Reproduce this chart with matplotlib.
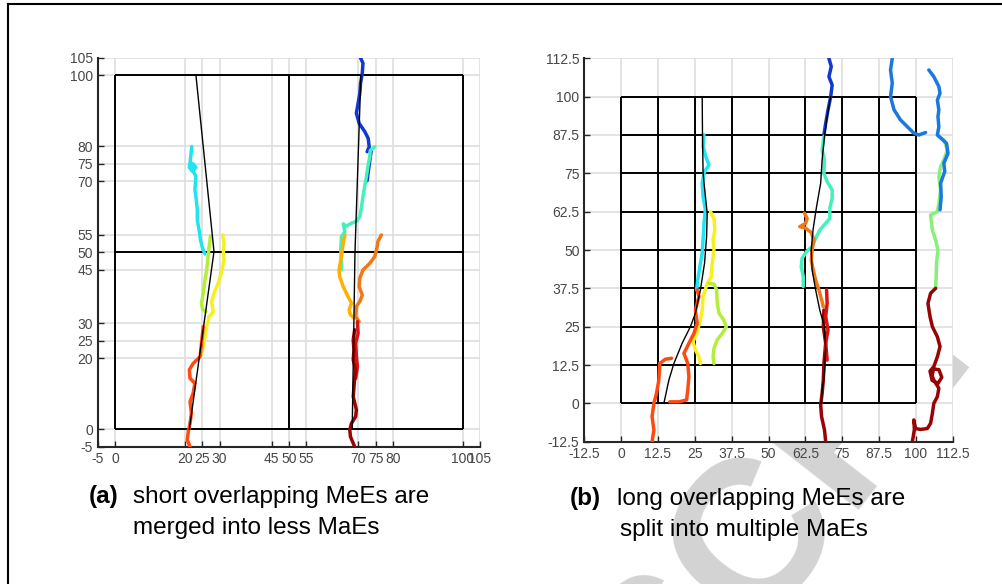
import matplotlib.pyplot as plt
from matplotlib.lines import Line2D

plt.rcParams['font.family'] = ['Liberation Sans', 'DejaVu Sans']

# ---------------- data: panel (a) ----------------
ticks_a = [-5, 0, 20, 25, 30, 45, 50, 55, 70, 75, 80, 100, 105]
grid_a = [0, 50, 100]

# fitted MaE lines (black)
mae1_a_x = [23.2, 28.4, 21.3]
mae1_a_y = [100, 50.2, 0]
mae2_a_x = [70.7, 69.0, 68.2]
mae2_a_y = [100, 50, 0]

cyan_a_x = [22.0, 21.7, 21.5, 21.3, 22.0, 23.2, 22.3, 21.8, 22.6, 23.2, 22.9, 23.2, 23.6, 23.6, 24.2, 24.5, 25.1, 25.8]
cyan_a_y = [79.8, 77.0, 75.2, 74.0, 73.0, 74.0, 75.0, 74.2, 72.5, 71.4, 67.6, 65.7, 62.0, 59.1, 55.8, 53.5, 51.1, 49.5]

ygreen_a_x = [27.4, 27.0, 26.7, 26.3, 25.8, 25.3, 24.8, 25.1, 26.1]
ygreen_a_y = [54.6, 51.6, 48.8, 45.0, 42.2, 38.4, 35.6, 33.9, 33.2]

yellow_a_x = [30.9, 31.3, 31.1, 31.3, 30.6, 29.6, 28.4, 27.7, 28.2, 27.0, 26.3, 25.8, 25.3, 24.8]
yellow_a_y = [54.9, 52.5, 49.7, 47.8, 44.5, 41.2, 38.4, 36.1, 33.2, 31.8, 29.0, 26.2, 23.4, 21.3]

ored_a_x = [25.3, 24.8, 24.4, 22.4, 21.3, 21.5, 22.9, 22.4, 21.5, 21.9, 21.5, 21.0, 20.7, 21.5]
ored_a_y = [29.0, 24.3, 20.5, 18.6, 16.8, 14.4, 13.0, 10.2, 7.8, 4.5, 1.7, -0.7, -3.0, -4.9]

blue1_a_x = [70.4, 71.3, 71.1, 70.6, 70.4, 69.9, 69.4, 70.2, 71.8, 72.8, 73.1, 72.5]
blue1_a_y = [105.3, 103.4, 100.6, 97.7, 94.9, 92.1, 89.3, 86.4, 84.1, 82.2, 79.8, 78.4]
blue2_a_x = [73.7, 73.3, 72.9, 72.5]
blue2_a_y = [78.9, 76.1, 73.3, 70.2]

teal_a_x = [74.7, 73.4, 73.3, 72.8, 72.3, 71.8, 71.3, 70.9, 70.4, 69.4, 68.0, 66.5, 65.6, 66.1, 65.1, 64.9, 65.1, 65.1]
teal_a_y = [79.8, 78.7, 77.0, 74.7, 71.4, 68.6, 65.7, 62.9, 60.1, 58.7, 58.2, 57.4, 58.0, 55.8, 54.4, 50.7, 46.9, 45.0]

oyel_a_x = [66.1, 65.6, 65.1, 64.4, 64.6, 65.6, 67.0, 68.0, 67.3, 67.7, 68.9]
oyel_a_y = [54.9, 52.5, 48.8, 45.0, 43.1, 40.3, 37.5, 35.6, 33.7, 32.3, 31.4]

orange_a_x = [76.6, 75.6, 75.4, 75.2, 74.7, 73.3, 71.3, 70.4, 70.2, 71.1, 70.4, 69.4, 69.2, 70.2]
orange_a_y = [54.9, 53.0, 51.6, 50.7, 48.8, 46.9, 45.0, 42.7, 40.3, 37.9, 36.1, 34.7, 31.8, 30.4]

red_a_x = [69.7, 69.9, 69.2, 69.4, 69.7, 69.2]
red_a_y = [30.4, 27.1, 24.3, 20.5, 17.7, 14.4]

dred_a_x = [68.9, 68.5, 68.7, 68.5, 69.2, 68.8, 68.5, 69.4, 69.2, 68.0, 67.5, 67.7, 68.9]
dred_a_y = [28.1, 25.2, 22.4, 19.6, 16.8, 13.0, 9.2, 5.5, 3.6, 1.7, -0.2, -2.1, -4.9]

# ---------------- data: panel (b) ----------------
ticks_b = [-12.5, 0, 12.5, 25, 37.5, 50, 62.5, 75, 87.5, 100, 112.5]
labels_b = ['-12.5', '0', '12.5', '25', '37.5', '50', '62.5', '75', '87.5', '100', '112.5']
grid_b = [0, 12.5, 25, 37.5, 50, 62.5, 75, 87.5, 100]

mae1_b_x = [27.5, 27.6, 27.8, 28.6, 29.2, 29.0, 28.3, 26.9, 25.2, 23.5, 20.7, 17.9, 16.2, 14.5]
mae1_b_y = [100, 88.1, 75.0, 67.4, 62.0, 54.4, 45.7, 37.0, 29.4, 25.0, 19.6, 13.0, 7.6, 0]
mae2_b_x = [71.1, 69.9, 69.0, 68.2, 67.7, 66.3, 65.1, 64.5, 64.8, 66.0, 67.4, 69.0, 69.4, 69.0, 68.2, 67.9]
mae2_b_y = [100, 93.5, 87.0, 79.4, 71.8, 64.1, 56.5, 50.0, 43.5, 37.0, 30.4, 25.0, 17.4, 9.8, 4.3, 0]

cyan_b_x = [28.1, 27.8, 28.7, 29.8, 28.3, 27.5, 27.8, 28.6, 28.1, 27.8, 27.5, 26.7, 26.0, 25.6]
cyan_b_y = [87.5, 83.7, 80.5, 77.7, 75.6, 71.8, 67.4, 63.1, 58.7, 53.3, 48.9, 44.6, 40.2, 37.0]

yellow_b_x = [30.3, 31.5, 31.8, 31.2, 31.5, 30.9, 30.6, 29.2, 27.8, 27.5, 26.9, 25.6, 24.4, 25.2, 26.4, 26.9]
yellow_b_y = [62.5, 60.3, 56.5, 53.3, 50.0, 45.7, 41.3, 39.1, 34.8, 30.4, 27.2, 22.8, 20.1, 17.4, 15.2, 13.0]

ygreen_b_x = [29.8, 31.5, 32.4, 32.6, 33.2, 34.8, 35.7, 34.3, 32.6, 31.5, 31.2, 31.5]
ygreen_b_y = [39.1, 38.9, 37.0, 32.6, 29.4, 27.2, 25.0, 22.8, 20.7, 17.9, 15.2, 13.0]

ored1_b_x = [25.8, 26.4, 25.2, 25.8, 24.7, 23.0, 21.3, 22.6, 23.0, 22.6, 22.2, 19.6, 16.5]
ored1_b_y = [37.0, 34.8, 30.4, 26.1, 22.8, 19.6, 16.3, 13.0, 8.7, 4.3, 1.1, 0.5, 0.5]
ored2_b_x = [17.1, 15.0, 13.1, 12.8, 12.0, 11.1, 10.5, 11.1, 10.5]
ored2_b_y = [14.7, 14.4, 13.0, 7.6, 3.3, 0, -4.3, -8.7, -12.5]

blue1_b_x = [70.5, 71.3, 70.5, 71.6, 71.1, 70.2, 69.4, 68.8]
blue1_b_y = [112.5, 109.8, 106.5, 103.8, 100, 95.7, 91.3, 87.5]

teal_b_x = [68.8, 68.2, 69.0, 68.8, 69.9, 71.6, 71.6, 70.8, 70.8, 69.4, 67.4, 66.0, 64.8, 62.9, 61.4, 61.1, 61.8, 61.8]
teal_b_y = [87.0, 82.6, 79.4, 75.0, 72.3, 69.6, 66.9, 63.6, 60.3, 58.7, 56.5, 53.8, 51.1, 49.5, 47.3, 44.6, 41.3, 38.1]

orange_b_x = [62.2, 63.1, 62.6, 60.6, 62.6, 64.5, 65.4, 64.8, 64.5, 65.2, 66.0, 67.1, 67.9, 68.6]
orange_b_y = [62.0, 60.3, 58.7, 57.6, 57.1, 55.7, 53.3, 50.0, 46.7, 43.5, 40.2, 37.0, 34.2, 31.5]

red_b_x = [69.7, 69.9, 69.4, 70.2, 69.4, 69.9]
red_b_y = [37.0, 32.6, 28.3, 23.9, 19.6, 14.1]

dred_b_x = [68.8, 68.6, 69.4, 68.8, 68.6, 68.2, 67.7, 68.0, 69.0, 69.4]
dred_b_y = [30.4, 25.0, 19.6, 13.0, 7.6, 3.3, -0.5, -4.3, -8.7, -12.5]

blue2_b_x = [92.0, 91.4, 92.0, 91.4, 92.6, 94.8, 97.1, 99.3, 101.0, 103.3]
blue2_b_y = [112.5, 108.7, 104.4, 100, 95.7, 92.4, 90.2, 88.1, 87.5, 88.3]

blue3_b_x = [104.4, 106.1, 107.8, 108.2, 107.3, 107.8, 107.5, 107.8, 107.3, 110.4, 110.9, 109.5, 109.8, 108.4, 108.6, 108.2]
blue3_b_y = [108.7, 106.5, 103.3, 101.1, 98.9, 95.7, 93.5, 90.2, 87.5, 84.8, 81.5, 78.3, 75.6, 71.8, 67.4, 63.1]

lgreen_b_x = [107.3, 109.5, 110.7, 109.5, 108.4, 107.8, 108.4, 107.8, 107.3, 105.0, 105.6, 106.7, 107.5, 107.0, 106.9, 106.7]
lgreen_b_y = [87.5, 85.9, 82.6, 79.4, 77.2, 73.9, 69.6, 65.2, 62.5, 61.4, 56.5, 53.3, 50.0, 45.7, 41.3, 37.5]

dred2_b_x = [106.7, 105.0, 104.1, 104.8, 105.6, 107.3, 108.2, 107.3, 106.1, 104.8, 105.5, 107.5, 108.8, 107.8, 106.0, 105.5,
             106.1, 107.8, 107.3, 106.1, 105.6, 105.0, 103.9, 101.6, 99.9, 99.3, 99.5, 99.1, 98.8]
dred2_b_y = [37.5, 35.9, 32.6, 28.3, 25.0, 21.7, 18.5, 15.2, 12.0, 10.5, 7.5, 6.5, 8.5, 11.0, 11.2, 9.0,
             7.6, 4.9, 2.2, 0, -3.3, -6.5, -8.2, -8.5, -8.2, -5.4, -8.5, -10.9, -12.5]

# jet-like colours
c_dblue = '#1238d0'
c_blue = '#1a78e0'
c_cyan = '#20e4f0'
c_teal = '#45f0bc'
c_lgreen = '#86f07a'
c_ygreen = '#b4ee3a'
c_yellow = '#f6f020'
c_oyel = '#ffb000'
c_orange = '#f07818'
c_ored = '#ff4a12'
c_red = '#d81414'
c_dred = '#980404'

fig = plt.figure(figsize=(10.03, 5.84), dpi=100)

# figure frame (left and top edges visible)
fig.add_artist(Line2D([8 / 1003, 8 / 1003], [0, 1 - 4 / 584], color='black', lw=1.5))
fig.add_artist(Line2D([8 / 1003, 1], [1 - 4 / 584, 1 - 4 / 584], color='black', lw=1.5))

# faint watermark behind everything
fig.text(0.6256, -0.2147, 'SCRI', rotation=52, fontsize=150, fontweight='bold',
         color='#d3d3d3', ha='left', va='center', rotation_mode='anchor', zorder=-5)


def style_axes(ax, lo, hi, ticks, labels):
    ax.set_xlim(lo, hi)
    ax.set_ylim(lo, hi)
    ax.set_xticks(ticks)
    ax.set_yticks(ticks)
    ax.set_xticklabels(labels)
    ax.set_yticklabels(labels)
    ax.spines['top'].set_visible(False)
    ax.spines['right'].set_visible(False)
    for s in ['left', 'bottom']:
        ax.spines[s].set_color('#262626')
        ax.spines[s].set_linewidth(1.5)
    ax.tick_params(direction='in', length=4, width=1, colors='#262626',
                   labelsize=10, labelcolor='#474747')
    ax.grid(True, color='#dedede', lw=1.2)
    ax.set_axisbelow(True)


def track(ax, x, y, c):
    ax.plot(x, y, color=c, lw=2.5, solid_capstyle='round', solid_joinstyle='round', zorder=3)


# ---------------- panel (a) ----------------
ax1 = fig.add_axes([98 / 1003, 1 - 447 / 584, 382 / 1003, 389.5 / 584])
style_axes(ax1, -5, 105, ticks_a, [str(t) for t in ticks_a])
ax1.vlines(grid_a, 0, 100, color='black', lw=1.4, zorder=2)
ax1.hlines(grid_a, 0, 100, color='black', lw=1.4, zorder=2)

track(ax1, cyan_a_x, cyan_a_y, c_cyan)
track(ax1, ygreen_a_x, ygreen_a_y, c_ygreen)
track(ax1, yellow_a_x, yellow_a_y, c_yellow)
track(ax1, ored_a_x, ored_a_y, c_ored)
track(ax1, blue1_a_x, blue1_a_y, c_dblue)
track(ax1, blue2_a_x, blue2_a_y, c_dblue)
track(ax1, teal_a_x, teal_a_y, c_teal)
track(ax1, oyel_a_x, oyel_a_y, c_oyel)
track(ax1, orange_a_x, orange_a_y, c_orange)
track(ax1, red_a_x, red_a_y, c_red)
track(ax1, dred_a_x, dred_a_y, c_dred)
ax1.plot(mae1_a_x, mae1_a_y, color='black', lw=1.0, zorder=4)
ax1.plot(mae2_a_x, mae2_a_y, color='black', lw=1.0, zorder=4)

# ---------------- panel (b) ----------------
ax2 = fig.add_axes([584.3 / 1003, 1 - 441.7 / 584, 368.4 / 1003, 383.4 / 584])
style_axes(ax2, -12.5, 112.5, ticks_b, labels_b)
ax2.vlines(grid_b, 0, 100, color='black', lw=1.4, zorder=2)
ax2.hlines(grid_b, 0, 100, color='black', lw=1.4, zorder=2)

track(ax2, cyan_b_x, cyan_b_y, c_cyan)
track(ax2, yellow_b_x, yellow_b_y, c_yellow)
track(ax2, ygreen_b_x, ygreen_b_y, c_ygreen)
track(ax2, ored1_b_x, ored1_b_y, c_ored)
track(ax2, ored2_b_x, ored2_b_y, c_ored)
track(ax2, blue1_b_x, blue1_b_y, c_dblue)
track(ax2, teal_b_x, teal_b_y, c_teal)
track(ax2, orange_b_x, orange_b_y, c_orange)
track(ax2, dred_b_x, dred_b_y, c_dred)
track(ax2, red_b_x, red_b_y, c_red)
track(ax2, blue2_b_x, blue2_b_y, c_blue)
track(ax2, lgreen_b_x, lgreen_b_y, c_lgreen)
track(ax2, blue3_b_x, blue3_b_y, c_blue)
track(ax2, dred2_b_x, dred2_b_y, c_dred)
ax2.plot(mae1_b_x, mae1_b_y, color='black', lw=1.0, zorder=4)
ax2.plot(mae2_b_x, mae2_b_y, color='black', lw=1.0, zorder=4)

# ---------------- captions ----------------
cap = dict(fontsize=17.5, va='center', ha='left', color='black')
fig.text(89 / 1003, 1 - 497 / 584, '(a)', fontweight='bold', **cap)
fig.text(133 / 1003, 1 - 497 / 584, 'short overlapping MeEs are', **cap)
fig.text(133 / 1003, 1 - 528 / 584, 'merged into less MaEs', **cap)
fig.text(570 / 1003, 1 - 499 / 584, '(b)', fontweight='bold', **cap)
fig.text(617 / 1003, 1 - 499 / 584, 'long overlapping MeEs are', **cap)
fig.text(620 / 1003, 1 - 530 / 584, 'split into multiple MaEs', **cap)

fig.savefig('out.png', dpi=100)
